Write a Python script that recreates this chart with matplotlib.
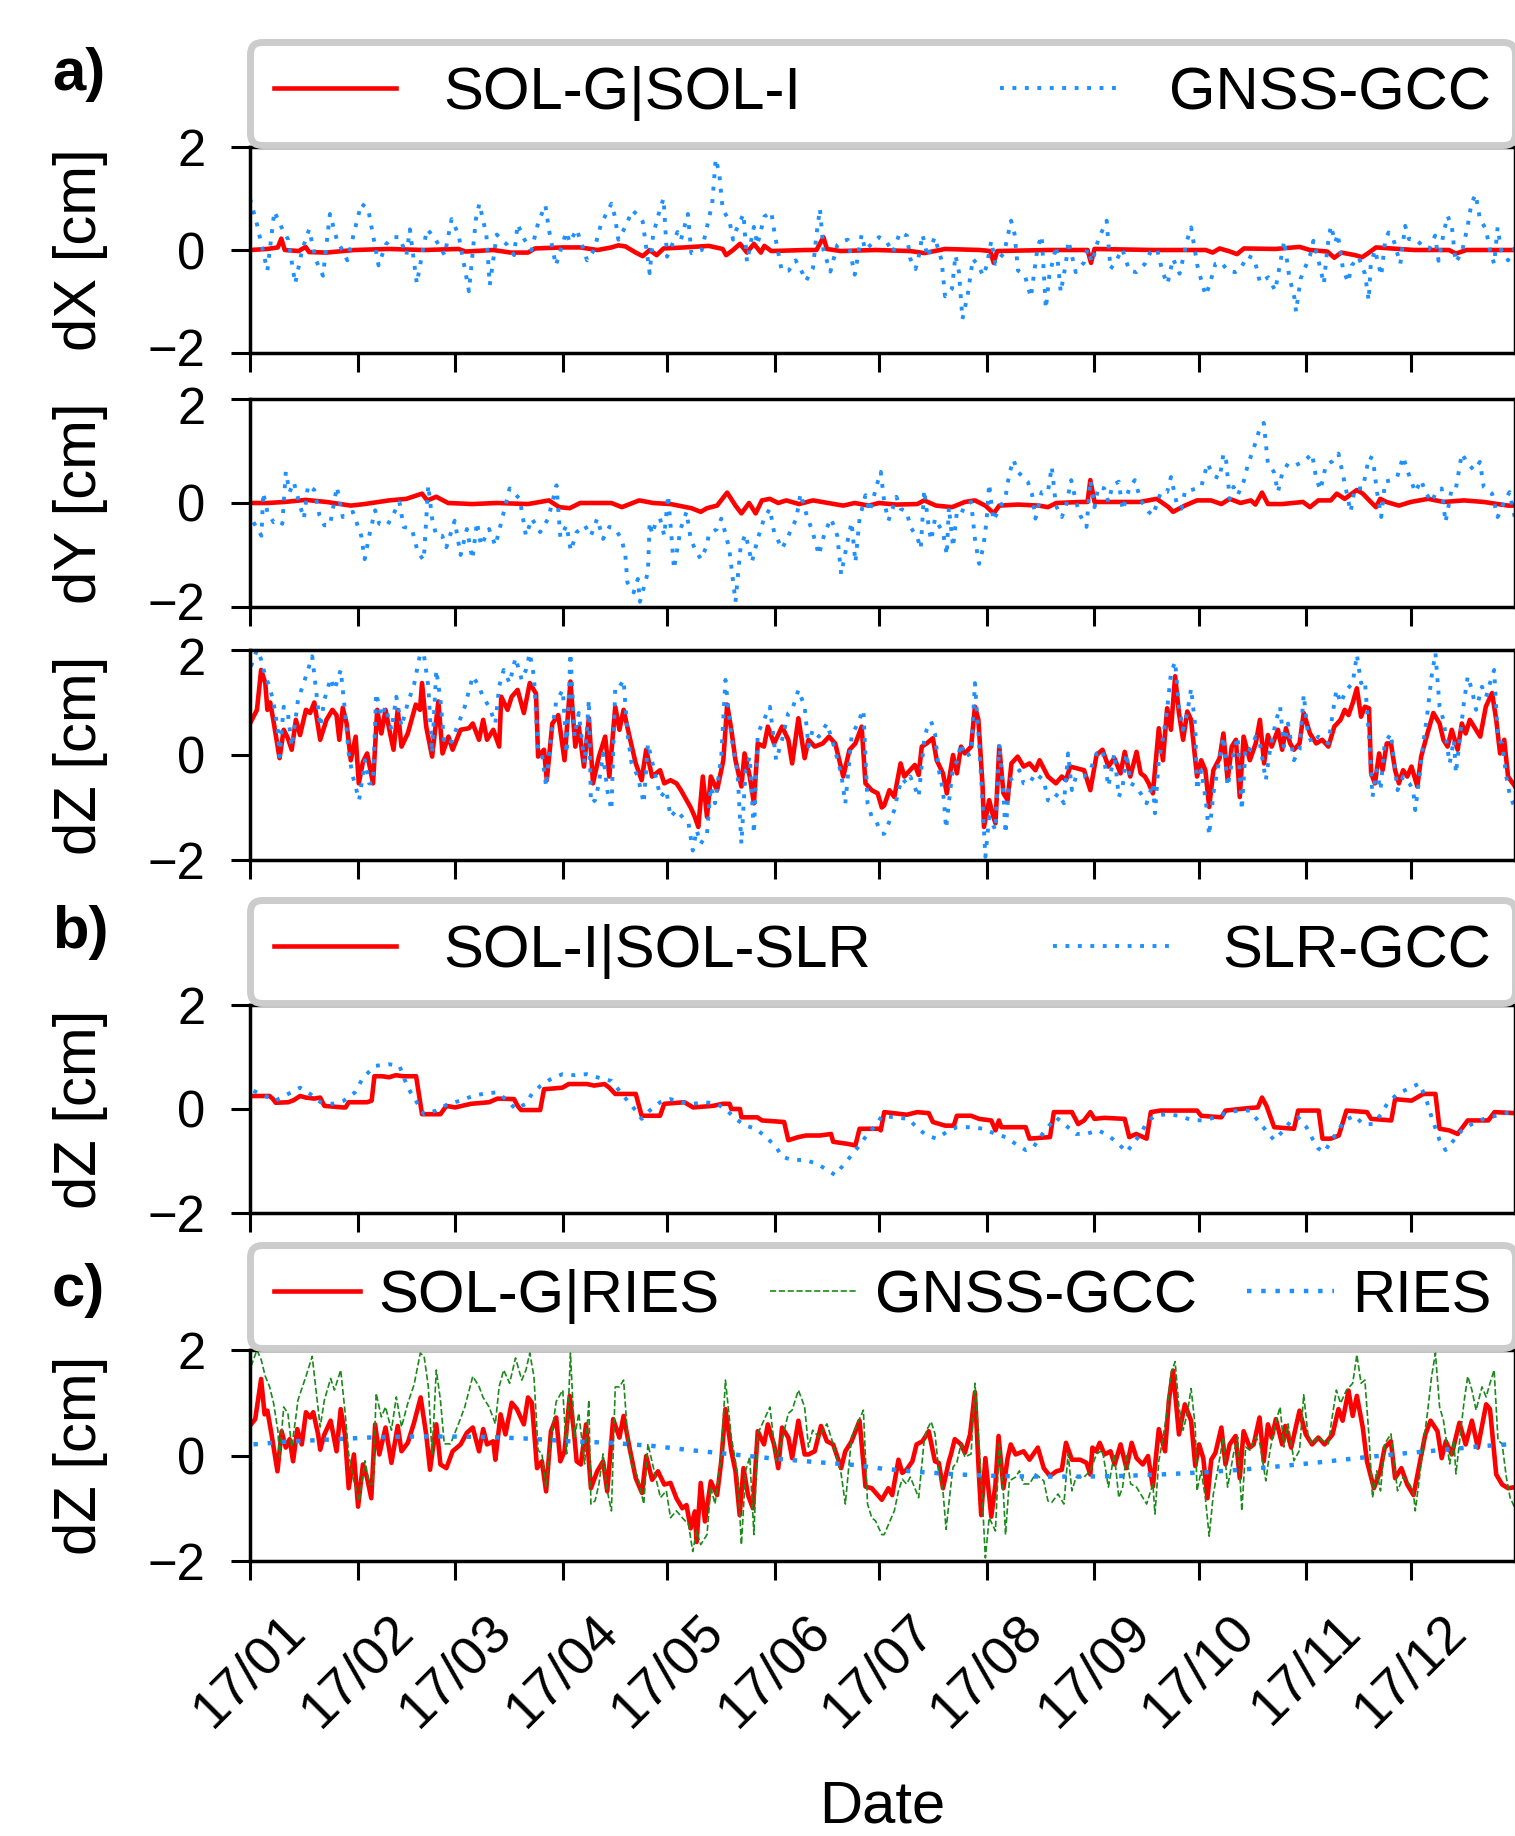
import numpy as np
import matplotlib
matplotlib.use('Agg')
import matplotlib.pyplot as plt
import matplotlib.dates as mdates
import matplotlib.transforms as mtransforms
from matplotlib.ticker import FixedLocator, FixedFormatter

plt.rcParams['font.family'] = ['Liberation Sans', 'DejaVu Sans']

START = '2017-01-01'
TICK_MONTHS = ['2017-01-01', '2017-02-01', '2017-03-01', '2017-04-01', '2017-05-01', '2017-06-01',
               '2017-07-01', '2017-08-01', '2017-09-01', '2017-10-01', '2017-11-01', '2017-12-01']
TICK_LABELS = ['17/01', '17/02', '17/03', '17/04', '17/05', '17/06',
               '17/07', '17/08', '17/09', '17/10', '17/11', '17/12']
YTICKS = [-2, 0, 2]
YLABELS = ['dX [cm]', 'dY [cm]', 'dZ [cm]', 'dZ [cm]', 'dZ [cm]']
PANEL_TAGS = ['a)', 'b)', 'c)']

# ---------------- panel a) dX ----------------
DX_SOL_D = [0, 5, 8, 9, 10, 14, 16, 17, 22, 30, 40, 50, 60, 62, 70, 75, 80, 82, 90, 95, 100, 104, 106, 108,
            111, 113, 115, 117, 119, 125, 132, 136, 137, 139, 141, 143, 145, 147, 148, 150, 160, 163, 165,
            166, 170, 180, 190, 194, 200, 210, 213, 214, 215, 230, 241, 242, 243, 260, 275, 277, 279, 282,
            284, 286, 295, 302, 305, 310, 312, 314, 318, 320, 322, 324, 335, 345, 347, 350, 364]
DX_SOL_V = [0.0, 0.02, 0.05, 0.22, 0.0, -0.02, 0.06, -0.04, -0.05, 0.0, 0.02, 0.0, 0.02, -0.03, 0.0, -0.05,
            -0.05, 0.03, 0.05, 0.05, 0.0, 0.05, 0.09, 0.07, -0.05, -0.12, 0.0, -0.1, 0.03, 0.05, 0.08, 0.02,
            -0.1, 0.0, 0.12, -0.05, 0.12, -0.05, 0.08, -0.02, 0.0, 0.0, 0.25, 0.02, -0.02, 0.0, -0.02, -0.06,
            0.02, 0.0, -0.02, -0.25, -0.02, 0.0, 0.0, -0.25, 0.02, 0.0, 0.0, -0.05, 0.03, -0.03, -0.08, 0.03,
            0.02, 0.06, 0.0, -0.03, -0.15, -0.05, -0.1, -0.14, -0.05, 0.05, 0.0, 0.0, -0.07, 0.0, 0.0]

DX_GNSS_D = [0, 2, 5, 7, 9, 11, 13, 15, 17, 19, 21, 23, 25, 28, 32, 34, 37, 39, 41, 43, 45, 46, 48, 50, 51,
             53, 56, 58, 60, 63, 65, 66, 68, 69, 71, 74, 76, 77, 79, 81, 83, 85, 86, 88, 91, 92, 94, 95, 97,
             99, 101, 104, 105, 106, 108, 110, 112, 113, 115, 116, 118, 119, 120, 123, 124, 126, 127, 130,
             131, 133, 134, 135, 136, 138, 139, 140, 142, 143, 145, 146, 148, 150, 151, 153, 155, 157, 159,
             160, 162, 163, 164, 165, 167, 169, 170, 172, 174, 176, 177, 181,
             183, 185, 187, 189, 190, 191.5, 192.5, 193.5, 195, 197, 199, 200, 202, 203, 204, 205, 206.5,
             208, 209.5, 211, 212, 213.3, 214.5, 217, 219, 220, 221, 223, 224.7, 226.6, 227.8, 229, 230,
             232, 233.3, 234.8, 235.5, 237.6, 240, 241, 242.3, 244, 245, 246.5, 247.6, 249, 251, 253, 255,
             257.5, 259, 261, 262.6, 264, 265.6, 267.5, 269.7, 270.8, 272.6, 274, 275, 276, 277.8, 279.5,
             281.3, 283.5, 285, 287, 289, 290.6, 293, 295, 296.3, 297.6, 299, 300.6, 301, 302.3, 305, 306,
             307.8, 309, 310, 311, 312.3, 313, 314.5, 316, 317, 319, 320.8, 321.9, 322.5, 323.7, 325.5,
             326.6, 327.6, 329, 331, 332.4, 333.5, 335.3, 337.5, 339.3, 341, 342, 343.5, 344.6, 345.8,
             346.9, 348.7, 350.4, 351.5, 352.7, 353.9, 355.6, 356.8, 358, 359, 360, 362, 364]
DX_GNSS_V = [1.0, 0.5, -0.4, 0.75, 0.45, 0.2, -0.65, 0.0, 0.4, -0.2, -0.5, 0.7, 0.2, -0.2, 0.9, 0.8, -0.3,
             0.1, 0.25, 0.25, -0.1, 0.4, -0.65, 0.1, 0.4, 0.25, -0.1, 0.6, 0.3, -0.8, 0.6, 0.9, 0.3, -0.68,
             0.3, 0.1, -0.1, 0.5, 0.2, 0.0, 0.55, 0.87, 0.4, -0.3, 0.35, 0.15, 0.4, 0.2, -0.2, 0.0, 0.5, 0.9,
             0.65, 0.2, 0.45, 0.77, 0.65, 0.55, -0.45, 0.3, 0.8, 1.0, -0.13, 0.35, 0.2, 0.7, -0.06, 0.0, 0.3,
             0.9, 1.77, 1.5, 0.8, 0.55, 0.2, 0.4, 0.7, -0.23, 0.45, 0.1, 0.65, 0.74, 0.3, -0.4, -0.4, -0.2,
             -0.45, -0.6, -0.35, 0.3, 0.8, 0.0, -0.42, 0.1, 0.16, 0.2, -0.48, 0.3, 0.0, 0.25,
             0.18, -0.05, 0.34, 0.28, -0.17, -0.37, -0.1, 0.3, -0.14, 0.25, -0.2, -0.9, -0.75, -0.1, -0.43,
             -1.34, -0.88, -0.17, -0.3, -0.5, -0.3, 0.18, -0.27, -0.05, 0.57, 0.31, -0.4, -0.5, -0.92, 0.05,
             0.28, -1.14, -0.5, 0.08, -0.82, -0.24, 0.18, -0.43, -0.24, 0.02, -0.24, 0.18, 0.34, 0.57, -0.37,
             -0.24, 0.02, -0.4, -0.43, -0.27, -0.05, 0.02, -0.43, -0.66, -0.17, -0.46, 0.2, 0.44, -0.3, -0.66,
             -0.88, -0.7, -0.27, -0.24, -0.4, -0.43, -0.37, -0.11, -0.17, -0.63, -0.53, -0.79, -0.3, 0.18,
             -0.5, -0.95, -1.2, -0.56, -0.11, 0.18, -0.3, -0.66, 0.05, 0.47, 0.15, 0.31, -0.37, -0.63, -0.3,
             -0.14, -0.46, -0.98, -0.27, 0.0, -0.5, 0.15, 0.34, 0.21, -0.27, 0.47, 0.21, 0.21, 0.08, 0.02,
             0.28, -0.21, 0.34, 0.66, 0.47, -0.24, -0.05, 0.47, 0.92, 1.08, 0.6, 0.41, 0.0, -0.27, 0.44, 0.0,
             -0.2, 0.05]

# ---------------- panel a) dY ----------------
DY_SOL_D = [0, 5, 10, 16, 22, 29, 33, 40, 45, 49.5, 51, 53.6, 57, 64, 71, 80, 86, 89, 92, 95, 104, 107, 112,
            116, 121, 127, 129.7, 131.5, 134.4, 137.3, 139.7, 141.4, 143.6, 145.5, 147.3, 149.6, 152, 154.3,
            158, 162, 170.7, 174, 178, 181, 186, 192, 194, 197.4, 202, 205.7, 208.6, 211.6, 214, 215.6, 221,
            227, 229.6, 232, 239, 241, 241.8, 243, 250, 256, 260.9, 264.3, 265.6, 269, 272.5, 276.5, 279.5,
            281.9, 285, 288, 289.3, 291.2, 292.9, 297, 303, 305, 307.4, 311, 312.7, 315, 318.5, 320.2,
            322.5, 324, 325.2, 327, 330.6, 334, 339, 343.5, 349.3, 355, 362, 364]
DY_SOL_V = [0.0, 0.0, 0.02, 0.06, 0.02, -0.05, -0.02, 0.05, 0.08, 0.18, 0.05, 0.12, 0.0, -0.02, 0.0, -0.02,
            0.05, -0.08, -0.1, 0.0, 0.0, -0.08, 0.05, 0.0, -0.02, -0.1, -0.17, -0.1, -0.05, 0.2, -0.05, -0.2,
            0.0, -0.2, 0.05, 0.08, 0.0, 0.05, -0.02, 0.05, -0.05, 0.0, -0.05, 0.0, -0.03, -0.02, 0.05, -0.05,
            -0.08, 0.02, 0.05, -0.05, -0.2, -0.05, -0.03, -0.05, -0.08, 0.0, 0.02, 0.02, 0.44, 0.02, 0.02,
            0.02, 0.08, -0.08, -0.17, -0.05, 0.05, 0.05, -0.02, 0.08, 0.0, 0.05, -0.03, 0.2, -0.02, -0.02,
            0.02, -0.08, 0.05, 0.05, 0.18, 0.08, 0.25, 0.18, 0.02, -0.08, 0.08, 0.02, -0.05, 0.02, 0.08, 0.02,
            0.05, 0.02, -0.05, -0.05]

DY_GNSS_D = [1, 3.3, 3.8, 5, 6.8, 8, 9.3, 10.3, 11.4, 12.6, 14.4, 15.5, 16.7, 18.5, 20, 21.4, 23, 25, 26.7,
             29.6, 32, 33, 34.3, 36, 37.2, 39.5, 41.3, 43, 44.2, 46.6, 48.3, 50, 51.3, 52.4, 53.6, 55.3, 56.5,
             58.9, 60.6, 62.4, 64, 65.3, 66.5, 68.8, 70.6, 72.3, 74.7, 77.6, 79.4, 81.1, 83.5, 85.8, 88.2,
             89.3, 91.1, 92.3, 94, 96.3, 98.1, 99.9, 101.6, 103.4, 105.1, 106.9, 108, 108.6, 110.4, 111.6,
             112.2, 114.5, 115, 115.7, 116.8, 118, 119.2, 120.3, 121.4, 122, 123.9, 125.6, 126.8, 128, 129.7,
             131.5, 132, 134.4, 135.6, 136.7, 137.9, 139.7, 141.2, 142.6, 144.4, 146.1, 147.9, 149.6, 150.8,
             153.1, 154.9, 157.2, 158.4, 160.2, 161.9, 163.7, 165.4, 167.2, 169, 170.1, 171.9, 173.1, 174.2,
             175.4, 177.1, 178.3, 180.6,
             181.5, 182.5, 183.7, 184.9, 186, 187.2, 189, 190, 192, 193, 194, 195.3, 196, 197.1, 198.2, 199.4,
             200.5, 201.1, 202.3, 203.4, 204.6, 205.7, 207.5, 208.6, 209.8, 211, 211.9, 212.7, 213.9, 215.6,
             217.4, 218.5, 219.7, 220.9, 222, 223.8, 225, 226, 227.8, 229.6, 230.7, 231.9, 233.6, 234.8,
             236.3, 237.7, 238.9, 240.7, 241.8, 243, 244.1, 245.8, 247, 248.2, 250, 251.1, 253, 254.6, 256.3,
             258.6, 259.8, 262.1, 263.9, 265, 266.8, 268, 269.1, 270.3, 272.5, 273.7, 275.5, 277.2, 279,
             280.1, 280.9, 281.9, 283, 284.2, 285.9, 287.1, 288.8, 290.6, 291.7, 292.9, 294.6, 295.8, 297,
             298.7, 301, 303.3, 305.6, 306.8, 308, 309.6, 311.4, 313.2, 314.4, 316.7, 317.9, 320.2, 322,
             323.1, 324.3, 325.5, 326.6, 328.4, 330.1, 331.8, 333, 335.3, 337, 338.2, 340, 341.1, 342.9, 344,
             345.8, 347, 348.7, 350.4, 352.2, 353.9, 355, 357.4, 359, 360.7, 362.4, 364]
DY_GNSS_V = [-0.37, -0.63, 0.2, -0.17, -0.37, -0.33, -0.4, 0.6, 0.21, 0.4, -0.05, -0.3, 0.34, 0.25, -0.24,
             -0.43, -0.43, 0.31, -0.27, -0.17, -0.63, -1.08, -0.63, -0.14, -0.4, -0.43, -0.21, 0.02, -0.46,
             -0.5, -0.95, -1.1, 0.34, -0.3, -0.63, -0.63, -0.85, -0.34, -1.0, -0.5, -1.08, -0.37, -0.82, -0.5,
             -0.82, -0.37, 0.28, 0.08, -0.63, -0.3, -0.56, -0.3, 0.34, -0.66, -0.43, -0.92, -0.56, -0.43,
             -0.63, -0.3, -0.69, -0.46, -0.5, -0.69, -1.0, -1.53, -1.72, -1.46, -1.9, -1.33, -0.37, -0.6,
             -0.37, -0.3, -0.63, 0.15, -0.75, -1.27, -0.5, -0.17, -0.69, -0.88, -1.08, -0.82, -0.6, -0.5, -0.3,
             -0.56, -0.88, -1.9, -0.82, -0.6, -1.14, -0.69, -0.3, -0.11, -0.56, -0.88, -0.63, -0.3, 0.18,
             -0.24, -0.56, -1.0, -0.56, -0.3, -0.63, -1.37, -0.75, -0.37, -1.14, -0.3, 0.15, -0.17, 0.4,
             0.6, 0.02, -0.34, -0.11, 0.12, -0.11, -0.17, -0.46, -0.66, -0.88, 0.25, -0.46, -0.72, -0.3, -0.43,
             -0.56, -1.0, -0.08, -0.85, -0.17, -0.21, -0.05, 0.02, -0.69, -1.17, -0.85, -0.37, 0.37, -0.34,
             -0.11, 0.12, 0.57, 0.83, 0.6, 0.53, 0.41, 0.18, -0.3, 0.21, 0.21, 0.7, -0.05, -0.27, -0.05, 0.44,
             0.02, -0.24, -0.46, 0.44, -0.08, 0.31, 0.28, 0.02, 0.34, 0.41, -0.14, 0.28, 0.44, 0.05, -0.17,
             -0.24, 0.21, 0.21, 0.5, -0.05, -0.11, 0.24, 0.24, 0.28, 0.31, 0.76, 0.53, 0.47, 0.95, 0.8, 0.08,
             0.31, 0.15, 0.41, 0.73, 1.05, 1.44, 1.54, 0.76, 0.6, 0.21, 0.57, 0.76, 0.73, 0.8, 0.95, 0.47,
             0.25, 0.73, 0.8, 0.95, 0.57, -0.17, 0.28, 0.28, 0.89, 0.85, 0.21, -0.27, 0.41, 0.44, 0.5, 0.89,
             0.63, 0.21, 0.44, 0.21, 0.02, 0.18, 0.28, -0.37, 0.28, 0.28, 0.95, 0.76, 0.63, 0.79, 0.31, 0.18,
             -0.27, -0.01, 0.21, -0.3]

# ---------------- panel a) dZ ----------------
DZ_SOL_D = [0, 2, 3.2, 4.4, 5, 5.8, 6.7, 8.5, 9.7, 10.9, 12, 13.2, 14.4, 16.1, 17.3, 18.5, 20.2, 22, 23.7,
            24.9, 25.7, 26.7, 27.8, 29, 30.4, 31.3, 32.5, 33.7, 35.4, 36.6, 37.8, 39, 40.1, 41.3, 42.5, 43.6,
            45.4, 47.7, 48.9, 49.5, 50.7, 52.4, 54.2, 55.4, 57.1, 58.3, 60.6, 63, 64.1, 65.9, 67.1, 68.2, 70,
            71.7, 72.3, 74.1, 75.3, 77, 78.8, 80.5, 82.3, 82.9, 84.6, 85.4, 87, 88.7, 90.5, 92.2, 93.6, 94.6,
            96.1, 97.5, 98.7, 100.4, 102.2, 103.4, 105.1, 106.3, 107.5, 109.2, 111, 112.7, 114, 115.7, 118,
            119.2, 121, 122.7, 124, 125.6, 126.8, 128, 129, 130.3, 131.5, 132.6, 134.4, 136.2, 137.3, 138.5,
            139.7, 141.4, 142.3, 143.8, 145, 146.1, 147.9, 149, 150.8, 153.1, 154.9, 156, 157.8, 159.6, 160.7,
            162.5, 164.8, 166.6, 168.4, 170.7, 172.5, 174.2, 176, 177.1, 178.9, 180.6, 181.8,
            182.5, 184, 185.4, 187.2, 188.3, 189.5, 191.3, 192.4, 193.3, 194.7, 196.5, 197.6, 199.4, 200.5,
            202.3, 203.4, 204.6, 205.7, 207.5, 208.6, 209.6, 210.8, 211.2, 212.7, 213.9, 214.5, 215.6, 216.8,
            218, 219.1, 220.9, 222.6, 224.3, 226, 227.2, 229.6, 231.9, 233.6, 234.8, 236, 237.7, 240, 241.8,
            243.6, 245.3, 247, 248.7, 250.5, 251.7, 253.3, 255.1, 256.3, 257.5, 258.6, 259.8, 261.5, 262.7,
            263.9, 265, 266.2, 267.3, 268.5, 269.7, 270.8, 272.5, 273.7, 274.9, 276, 277.2, 279, 280.1, 281.3,
            282.5, 283.7, 284.8, 285.9, 287.7, 289.4, 290.6, 291.8, 292.9, 294, 295.8, 297, 298.1, 299.3,
            300.4, 302, 303.2, 305, 306.8, 308.5, 310.3, 312, 313.8, 315, 316.1, 317.3, 318.5, 319.7, 320.8,
            322, 322.6, 323.7, 324.9, 325.9, 327.1, 328.3, 329.5, 330.6, 331.8, 333, 334.2, 335.9, 337,
            338.8, 340.5, 342.3, 343.4, 344.6, 345.8, 347.5, 348.7, 349.8, 351, 352.8, 354, 355.6, 357.4,
            358.6, 359.7, 360.9, 362, 364]
DZ_SOL_V = [0.6, 0.86, 1.62, 1.37, 0.86, 1.0, 0.67, -0.06, 0.48, 0.32, 0.1, 0.67, 0.38, 0.86, 0.8, 1.0, 0.29,
            0.67, 0.86, 0.76, 0.29, 0.9, 0.6, -0.1, 0.35, -0.54, -0.13, 0.03, -0.54, 0.86, 0.41, 0.86, 0.48,
            0.1, 0.86, 0.16, 0.41, 0.96, 0.86, 1.37, 0.54, -0.03, 1.02, 0.03, 0.35, 0.1, 0.48, 0.51, 0.6, 0.29,
            0.67, 0.29, 0.48, 0.16, 1.11, 0.86, 1.11, 1.24, 0.8, 1.37, 1.17, -0.03, 0.1, -0.48, 0.6, 0.76,
            -0.1, 1.4, 0.16, 0.54, -0.22, 0.7, -0.54, -0.03, 0.35, -0.41, 0.92, 0.48, 0.86, 0.35, -0.16,
            -0.48, 0.1, -0.41, -0.29, -0.54, -0.48, -0.54, -0.67, -0.86, -1.0, -1.18, -1.37, -0.41, -1.18,
            -0.41, -0.67, -0.1, 0.96, 0.48, -0.1, -0.6, 0.03, -0.41, -0.92, 0.22, 0.16, 0.54, 0.22, 0.54,
            0.29, -0.16, 0.7, -0.06, 0.29, 0.16, 0.22, 0.35, 0.22, -0.41, 0.1, 0.22, 0.54, -0.54, -0.67,
            -0.73, -1.0,
            -0.96, -0.67, -0.8, -0.16, -0.41, -0.32, -0.19, -0.38, 0.16, 0.22, 0.32, -0.1, -0.35, -0.73, 0.0,
            -0.35, 0.16, 0.03, 0.16, 0.92, 0.67, -0.6, -1.37, -0.86, -1.18, -1.3, 0.16, -0.73, -0.86, -0.16,
            -0.03, -0.22, -0.16, -0.29, -0.1, -0.41, -0.54, -0.41, -0.48, -0.22, -0.25, -0.29, -0.67, 0.0,
            0.1, -0.22, -0.06, -0.35, 0.06, -0.41, 0.06, -0.35, -0.41, -0.54, -0.73, 0.51, -0.1, 0.89, 0.48,
            1.5, 0.8, 0.29, 0.83, 0.67, -0.41, -0.1, -0.29, -0.99, -0.29, -0.06, 0.41, -0.48, 0.16, 0.29,
            -0.8, 0.35, -0.1, 0.22, 0.67, -0.16, 0.38, 0.16, 0.48, 0.1, 0.51, 0.22, 0.1, 0.22, 0.8, 0.41,
            0.22, 0.29, 0.16, 0.54, 0.67, 0.86, 0.76, 0.99, 1.27, 0.73, 0.92, 0.89, -0.35, -0.54, 0.03,
            -0.29, 0.22, 0.22, -0.29, -0.54, -0.29, -0.41, -0.22, -0.6, -0.03, 0.41, 0.8, 0.6, 0.29, 0.16,
            0.48, 0.1, 0.6, 0.41, 0.67, 0.48, 0.35, 0.92, 1.18, 0.67, 0.03, 0.29, -0.41, -0.6]

# GNSS-GCC dZ (panel a dZ and panel c)
DZ_GNSS_D = [0.3, 2, 3.2, 4.4, 5.6, 6.8, 8, 8.5, 9.7, 10.9, 12, 13.2, 13.8, 16.1, 17.9, 19.1, 20.2, 21.4, 23.2,
             24.3, 26.1, 27.3, 28.4, 29.6, 31.4, 33.1, 34.3, 35.4, 36.3, 37.8, 39, 40.7, 42.1, 43.6, 45.4,
             47.2, 49, 50.1, 51.3, 52.4, 53.6, 54.8, 55.9, 57.7, 60, 61.8, 64.1, 65.9, 67, 68.8, 70.6, 71.7,
             73, 74.7, 76.4, 78.2, 79.4, 80.5, 81.7, 82.9, 84, 85.2, 86.4, 88.1, 90, 91.1, 92.2, 93.4, 94.6,
             96.3, 97.5, 98.1, 99.3, 100.4, 101.6, 102.8, 104, 105.1, 106.3, 107.5, 108.6, 109.8, 111.6,
             113.3, 114.5, 116.3, 118.1, 119.8, 121, 122.7, 124.4, 126.2, 127.4, 128.5, 129.7, 131.5, 132.6,
             133.8, 135.6, 136.8, 138.5, 140.3, 141.4, 142.6, 143.8, 145, 146.1, 147.9, 149.6, 151.4, 153.1,
             154.9, 156, 157.8, 159.6, 160.7, 161.9, 163.7, 166, 167.8, 170.1, 171.3, 173.1, 174.8, 176.5,
             177.7, 178.9, 180, 181.8,
             182.5, 183.7, 185.4, 186.6, 187.7, 188.9, 190, 191.2, 192.4, 194, 194.7, 196, 197.1, 198.2,
             199.4, 200.3, 201.5, 202.3, 203.4, 204.6, 205.7, 207.5, 208.6, 209.8, 210.8, 211.6, 212.7,
             214.5, 215.6, 216.8, 217.4, 218.5, 220.3, 221.4, 222.6, 224.3, 226, 228.4, 229.6, 230.7, 232.5,
             234.2, 235.4, 236.5, 237.7, 240, 241.8, 243.6, 245.3, 247, 248.7, 250, 251.1, 252.2, 253.4,
             255.1, 256.9, 258, 259.8, 260.4, 261.5, 262.7, 263.9, 265, 266.2, 267.3, 268.5, 269.7, 270.8,
             272, 272.5, 273.7, 274.9, 276, 277.2, 278.4, 280.1, 281.3, 283, 284.2, 285.4, 286.5, 287.7,
             289.4, 290.6, 292.3, 293.5, 295.2, 296.4, 297.5, 298.7, 300.4, 302, 303.2, 304.4, 305.6, 307.4,
             308.5, 310.3, 311.4, 312.6, 313.8, 315.5, 317.3, 318.5, 319.7, 320.8, 322, 323, 324.2, 325.3,
             326.5, 328.3, 329.5, 330.2, 331.8, 333.6, 334.7, 335.3, 336.4, 337.6, 338.8, 340, 341.1, 342.3,
             343.4, 345.2, 346.4, 347, 349.3, 350.4, 351.6, 352.8, 354.5, 355.7, 356.8, 358, 359.1, 360.3,
             361.5, 362.6, 364]
DZ_GNSS_V = [1.69, 2.0, 1.82, 1.5, 1.31, 0.99, 0.48, -0.03, 0.92, 0.8, 0.16, 0.73, 1.05, 1.5, 1.88, 1.18, 0.54,
             1.05, 1.46, 1.24, 1.62, 0.86, 0.03, -0.41, -0.86, -0.1, -0.54, -0.54, 1.18, 0.73, 0.92, 0.48, 1.11,
             0.54, 0.99, 1.34, 1.94, 1.88, 1.31, 0.03, 1.62, 1.05, 0.22, 0.22, 0.6, 0.92, 1.5, 1.31, 1.11, 0.92,
             0.6, 1.31, 1.62, 1.37, 1.85, 1.43, 1.62, 1.94, 1.5, 0.1, 0.03, -0.6, 0.22, 1.02, 1.24, 0.03, 1.94,
             0.35, 0.8, -0.16, 1.05, -0.92, -0.86, -0.54, 0.03, -0.67, -1.05, 1.3, 1.3, 1.43, 0.41, -0.16,
             -0.41, -0.92, 0.22, -0.29, -0.8, -0.67, -1.18, -1.05, -1.18, -1.31, -1.82, -1.43, -1.69, -1.5,
             -0.6, -0.92, -0.03, 1.43, 0.35, -0.35, -1.69, -0.29, -0.03, -1.5, 0.41, 0.67, 0.92, -0.1, 0.29,
             0.8, 0.86, 1.24, 0.92, 0.16, 0.48, 0.35, 0.6, 0.22, -0.35, -0.92, 0.35, 0.6, 0.86, -0.92, -1.18,
             -1.24, -1.5,
             -1.5, -1.31, -1.05, -0.67, -0.45, -0.54, -0.41, -0.6, -0.8, 0.29, 0.48, 0.64, 0.41, -0.29, -0.67,
             -1.4, -0.67, -0.22, -0.13, 0.22, -0.03, 0.03, 1.37, 0.22, -0.92, -1.94, -1.18, -1.43, 0.22, -0.73,
             -1.5, -0.48, -0.41, -0.29, -0.54, -0.54, -0.35, -0.48, -0.86, -0.89, -0.73, -0.92, 0.03, -0.67,
             -0.41, -0.41, -0.29, 0.03, 0.1, -0.6, 0.03, -0.8, -0.6, 0.03, -0.54, -0.6, -0.8, -0.92, -0.54,
             -1.11, -0.1, 0.32, 0.86, 1.56, 1.78, 0.92, 0.48, 0.8, 1.27, 0.54, -0.67, -0.29, -0.8, -1.53, -0.73,
             -0.29, 0.35, -0.6, 0.03, 0.35, -1.05, 0.16, 0.1, 0.35, 0.22, -0.48, 0.1, 0.64, 0.92, 0.16, 0.6,
             -0.1, 0.1, 1.15, 0.41, 0.22, 0.35, 0.29, 0.22, 0.73, 1.24, 0.99, 1.24, 1.37, 1.91, 1.37, 1.43,
             0.35, -0.8, -0.29, -0.67, 0.22, 0.41, -0.29, -0.67, -0.41, -0.54, -0.67, -1.05, -0.48, 0.22, 0.8,
             1.5, 1.94, 0.92, 0.67, -0.16, 0.29, -0.35, 1.0, 1.5, 1.24, 0.86, 1.3, 1.11, 1.37, 1.62, 0.29,
             0.22, -0.41, -0.8, -1.0]

# ---------------- panel b) dZ SLR ----------------
SLR_SOL_D = [0, 5.6, 6.5, 7.4, 11, 12.6, 14.4, 16, 18.5, 20.2, 21.4, 26.7, 27.5, 28.4, 33.7, 35, 35.8, 38, 40,
             42, 44, 47.8, 49.5, 54.8, 56.5, 59, 63.6, 68.8, 71.2, 76, 77, 78, 83.5, 84.6, 89.9, 91.7, 97, 99,
             102, 103.4, 105.1, 111, 112.7, 118, 119.2, 125, 127.5, 133.2, 136, 138, 138.5, 141, 141.4, 146,
             147.3, 153.7, 154.9, 157.8, 160, 164, 167.2, 167.8, 171.9, 174.2, 175.4, 181,
             181.5, 182.5, 189, 192, 195.3, 196.5, 200, 202.5, 203.4, 207.5, 209.8, 213.3, 214.5, 215.5, 216.2,
             223.2, 224.3, 230.2, 231.3, 236.5, 238.3, 240, 241.8, 243, 245.8, 251.7, 253, 255, 258, 259.2,
             262, 267, 272.5, 273.7, 279.5, 280.7, 285, 287.7, 290, 291.2, 292.5, 294.7, 300.4, 301.6, 307.5,
             308.6, 311, 313.3, 315.5, 321.4, 322.6, 328.4, 329.5, 334.2, 337.6, 341.1, 342.3, 345, 347.5,
             350.4, 356.3, 358.1, 364]
SLR_SOL_V = [0.25, 0.25, 0.2, 0.12, 0.13, 0.17, 0.25, 0.22, 0.2, 0.22, 0.06, 0.03, 0.03, 0.13, 0.13, 0.16, 0.63,
             0.63, 0.61, 0.65, 0.63, 0.63, -0.1, -0.1, 0.06, 0.03, 0.1, 0.13, 0.2, 0.19, 0.06, -0.02, -0.02,
             0.38, 0.41, 0.48, 0.48, 0.45, 0.48, 0.41, 0.29, 0.29, -0.13, -0.13, 0.1, 0.13, 0.03, 0.06, 0.1, 0.1,
             0.0, 0.0, -0.16, -0.16, -0.22, -0.25, -0.6, -0.54, -0.51, -0.51, -0.48, -0.63, -0.67, -0.7, -0.38,
             -0.38,
             -0.41, -0.06, -0.11, -0.06, -0.08, -0.25, -0.32, -0.32, -0.13, -0.13, -0.19, -0.22, -0.41, -0.22,
             -0.35, -0.35, -0.57, -0.54, -0.06, -0.06, -0.29, -0.22, -0.06, -0.19, -0.17, -0.19, -0.54, -0.48,
             -0.57, -0.06, -0.03, -0.03, -0.03, -0.13, -0.16, -0.03, 0.0, 0.02, 0.03, 0.22, 0.06, -0.35, -0.38,
             -0.03, -0.03, -0.57, -0.57, -0.51, -0.03, -0.06, -0.19, -0.22, 0.19, 0.16, 0.29, 0.29, -0.38,
             -0.41, -0.48, -0.22, -0.22, -0.06, -0.08]

SLR_GCC_D = [1, 7.3, 11, 14.4, 17.3, 20.3, 23.7, 27, 30.2, 32.5, 36, 40.1, 43, 45.4, 47.7, 50.1, 53.6, 57.1,
             60.6, 64.1, 67.7, 71.2, 74.1, 76.4, 79.4, 81.1, 83.5, 86.4, 89.9, 93.4, 96.9, 100.4, 104, 106.3,
             108.6, 111, 112.7, 115, 118, 120.9, 124.4, 127.4, 130.9, 134.4, 137.3, 139.7, 142.6, 145.5, 148.5,
             151.4, 153.1, 156.1, 159.6, 163.1, 166, 168.4, 170.7, 173.1, 175.4, 177.7, 180, 181.9, 185.4,
             189.5, 191.8, 194.7, 197.6, 200.5, 203.4, 207.5, 211, 214.5, 217.4, 220.3, 223.2, 225.5, 227.3,
             229.6, 231.9, 234.8, 237.7, 240.6, 244.1, 247, 249.9, 252.3, 254, 256.3, 258.1, 260.4, 263.8,
             267.3, 270.8, 274.3, 277.8, 281.3, 284.8, 287.7, 290, 292.3, 294.7, 297, 299.3, 301.6, 304, 305.7,
             307.4, 309.2, 310.9, 313.2, 314.9, 317.9, 320.2, 323.1, 325.5, 327.2, 330.1, 333, 336.5, 338.3,
             340, 342.3, 344, 346.4, 348.7, 351.6, 355, 358.5, 362.6]
SLR_GCC_V = [0.35, 0.16, 0.29, 0.41, 0.29, 0.13, 0.1, 0.16, 0.32, 0.6, 0.83, 0.86, 0.83, 0.41, 0.16, -0.1, -0.03,
             0.1, 0.16, 0.25, 0.3, 0.32, 0.16, 0.0, 0.1, 0.29, 0.44, 0.57, 0.67, 0.65, 0.67, 0.6, 0.54, 0.35,
             0.16, -0.03, -0.19, -0.03, 0.13, 0.19, 0.13, 0.1, 0.13, 0.1, -0.03, -0.19, -0.32, -0.38, -0.54,
             -0.73, -0.92, -0.98, -0.98, -1.05, -1.17, -1.27, -1.08, -0.89, -0.7, -0.48, -0.32, -0.13, -0.16,
             -0.19, -0.35, -0.51, -0.57, -0.44, -0.35, -0.35, -0.38, -0.48, -0.54, -0.67, -0.79, -0.73, -0.54,
             -0.35, -0.16, -0.32, -0.48, -0.48, -0.41, -0.51, -0.67, -0.83, -0.67, -0.48, -0.25, -0.13, -0.1,
             -0.13, -0.21, -0.22, -0.16, -0.06, -0.03, -0.03, -0.22, -0.41, -0.6, -0.44, -0.25, -0.16, -0.35,
             -0.57, -0.76, -0.83, -0.63, -0.41, -0.22, -0.13, -0.29, -0.29, -0.1, 0.1, 0.29, 0.38, 0.49, 0.22,
             -0.16, -0.6, -0.79, -0.6, -0.41, -0.29, -0.19, -0.13, -0.06]

# ---------------- panel c) dZ RIES ----------------
RIES_SOL_D = [0.3, 1.5, 3.2, 4.2, 5, 6.2, 7.9, 9.1, 10.3, 11.4, 12.4, 13.6, 14.9, 16.1, 17.3, 18.2, 19.6, 20.2,
              21.4, 23.2, 24.9, 26.1, 27.3, 28.4, 29.9, 31.1, 32.5, 33.7, 34.9, 36, 37.2, 39, 40.7, 42.5, 43.6,
              45.4, 47.2, 49.1, 50.7, 51.8, 53.6, 54.8, 56.5, 58.3, 60.6, 62.4, 64.1, 65.9, 67.1, 68.2, 70, 70.6,
              72.1, 73.5, 75.3, 76.8, 78.8, 80, 81.1, 82.6, 84, 85.2, 86.6, 88.1, 89.3, 90.5, 92, 93.2, 94, 95.2,
              96.7, 98.1, 99.9, 101.6, 102.8, 104.5, 106.3, 107.5, 109.2, 111, 112.8, 114, 115.7, 117.4, 119.2,
              121, 122.7, 124.4, 125.6, 126.8, 128, 128.5, 129.7, 130.9, 132.6, 134.4, 135.6, 136.8, 138.5,
              139.7, 140.9, 142, 143.3, 144.7, 146.1, 147.9, 149, 150.8, 152, 153.1, 154.9, 156, 157.8, 159.6,
              160.7, 162.5, 164.3, 166, 167.8, 170.1, 171.3, 173.1, 175.4, 177.1, 178.9, 180.6, 181.8,
              183.7, 184.8, 186.6, 187.7, 188.9, 190.6, 191.8, 193.5, 195.3, 197.1, 198.2, 199.4, 201.1, 201.7,
              202.8, 204.6, 205.7, 207.2, 208.6, 209.8, 210.4, 211.6, 213.3, 214.5, 215.4, 216.8, 218, 218.9,
              220.3, 222.6, 224.3, 226.7, 228.4, 230.2, 232, 233.6, 234.8, 236.5, 238.9, 240.7, 241.8, 242.4,
              243.5, 244.5, 245.9, 247.6, 248.8, 250.5, 252.2, 253.7, 255.1, 256.9, 258.4, 259.8, 261.5, 263.3,
              264.4, 265.6, 267.3, 269, 270.8, 272, 273.1, 274.3, 275.5, 276.6, 277.8, 279.5, 280.7, 281.9,
              283.6, 284.8, 285.9, 287.7, 288.8, 290.5, 291.7, 292.9, 294, 295.2, 297, 297.9, 299.6, 302, 303.8,
              305.6, 307.4, 309.2, 311.5, 313.2, 314.4, 316.1, 317.3, 318.5, 320.2, 321.4, 323.4, 325.2, 326.5,
              328.3, 329.5, 331.3, 333, 334.8, 336.5, 338.2, 339.7, 341.7, 342.9, 344.1, 345.8, 348, 349.8,
              351.6, 353.3, 355.7, 356.8, 358.6, 360.3, 362, 364]
RIES_SOL_V = [0.59, 0.69, 1.45, 0.78, 0.85, 0.4, -0.3, 0.46, 0.15, 0.31, -0.11, 0.5, 0.21, 0.82, 0.72, 0.82, 0.4,
              0.11, 0.4, 0.66, 0.08, 0.88, 0.4, -0.62, 0.02, -0.97, -0.17, -0.43, -0.81, 0.59, 0.02, 0.53, -0.14,
              0.56, 0.08, 0.24, 0.62, 1.1, 0.4, -0.27, 0.59, -0.17, -0.24, 0.08, 0.21, 0.43, 0.53, 0.08, 0.5,
              0.21, 0.27, -0.08, 0.78, 0.4, 1.0, 0.88, 0.59, 1.1, 1.0, -0.24, -0.11, -0.68, 0.46, 0.72, -0.11,
              0.08, 1.13, 0.46, -0.11, -0.17, 0.59, -0.62, -0.3, -0.11, -0.68, 0.69, 0.34, 0.75, 0.15, -0.43,
              -0.71, -0.01, -0.46, -0.3, -0.55, -0.52, -0.81, -1.0, -0.94, -1.38, -1.06, -1.64, -0.52, -1.25,
              -0.49, -0.75, -0.11, 0.88, 0.08, -0.3, -1.13, -0.24, -0.75, -1.0, 0.46, 0.21, 0.59, 0.21, -0.24,
              0.53, 0.34, -0.05, 0.66, 0.02, 0.02, 0.08, 0.56, 0.27, 0.21, -0.24, 0.08, 0.27, 0.66, -0.59, -0.62,
              -0.75, -0.84,
              -0.62, -0.75, -0.08, -0.33, -0.27, -0.11, 0.21, 0.27, 0.46, -0.11, -0.14, -0.62, -0.11, 0.02, 0.31,
              0.21, 0.05, 0.4, 1.2, -0.43, -1.13, -0.05, -1.16, -0.55, 0.37, -0.62, -0.05, 0.21, 0.02, 0.08,
              -0.08, 0.15, -0.24, -0.39, -0.3, -0.27, 0.24, -0.08, -0.08, -0.14, -0.36, 0.15, 0.08, 0.24, 0.02,
              0.08, -0.17, 0.21, -0.24, 0.24, -0.05, -0.17, -0.01, -0.59, 0.5, 0.08, 1.04, 1.61, 0.4, 0.97, 0.66,
              -0.2, 0.21, -0.05, -0.81, -0.08, 0.05, 0.53, -0.17, 0.21, 0.37, -0.43, 0.46, 0.15, 0.21, 0.72,
              -0.11, 0.59, 0.34, 0.69, 0.21, 0.56, 0.15, 0.85, 0.4, 0.21, 0.34, 0.21, 0.4, 0.88, 0.66, 1.23, 0.75,
              1.13, 0.53, -0.11, -0.62, -0.3, 0.15, 0.27, -0.43, -0.24, -0.55, -0.75, -0.17, 0.4, 0.66, 0.46,
              -0.05, 0.27, 0.02, 0.62, 0.21, 0.66, 0.15, 0.97, 0.88, -0.36, -0.55, -0.62, -0.6]

RIES_D = [1, 10, 22, 34, 45, 57, 69, 80, 92, 104, 116, 127, 139, 151, 162, 174, 182, 192, 204, 216, 227, 239,
          250, 262, 274, 285, 297, 309, 320, 332, 344, 355, 364]
RIES_V = [0.21, 0.26, 0.3, 0.34, 0.36, 0.36, 0.35, 0.32, 0.27, 0.24, 0.18, 0.1, 0.02, -0.06, -0.12, -0.18, -0.25,
          -0.31, -0.36, -0.39, -0.4, -0.4, -0.39, -0.36, -0.32, -0.27, -0.2, -0.12, -0.04, 0.04, 0.11, 0.18, 0.22]

RED = '#ff0000'
BLUE = '#1e90ff'
GREEN = '#1a8a1a'
DOT = (0, (1, 2.2))

T0 = mdates.date2num(np.datetime64(START))


def xs(days):
    return T0 + np.asarray(days, dtype=float)


W_PX, H_PX = 1515, 1836
fig = plt.figure(figsize=(W_PX / 100, H_PX / 100), dpi=100)
left = 250 / W_PX
width = 1.0 - left
rects = [(147, 353), (399, 607), (650, 860), (1005, 1213), (1350, 1561)]
axes = [fig.add_axes([left, 1 - b / H_PX, width, (b - t) / H_PX]) for t, b in rects]

month_x = [mdates.date2num(np.datetime64(m)) for m in TICK_MONTHS]

for i, ax in enumerate(axes):
    ax.set_xlim(xs([0])[0], xs([364])[0])
    ax.set_ylim(-2, 2)
    ax.set_yticks(YTICKS)
    ax.xaxis.set_major_locator(FixedLocator(month_x))
    if i == len(axes) - 1:
        ax.xaxis.set_major_formatter(FixedFormatter(TICK_LABELS))
        for lab in ax.get_xticklabels():
            lab.set_rotation(45)
            lab.set_ha('center')
    else:
        ax.set_xticklabels([])
    ax.tick_params(axis='both', direction='out', length=14, width=2.2, pad=18)
    ax.tick_params(axis='x', labelsize=39)
    ax.tick_params(axis='y', labelsize=36.5)
    for s in ax.spines.values():
        s.set_linewidth(2.5)
    ax.set_ylabel(YLABELS[i], fontsize=43)
    ax.yaxis.set_label_coords(-0.112, 0.5)

# nudge the -2 / 2 labels of the tightly stacked panels apart a little
for i in (0, 1, 2):
    ticks = axes[i].yaxis.get_major_ticks()
    if i in (0, 1):
        lab = ticks[0].label1
        lab.set_transform(lab.get_transform() + mtransforms.ScaledTranslation(0, 4 / 72, fig.dpi_scale_trans))
    if i in (1, 2):
        lab = ticks[-1].label1
        lab.set_transform(lab.get_transform() + mtransforms.ScaledTranslation(0, -4 / 72, fig.dpi_scale_trans))

# a) dX
ax = axes[0]
l1, = ax.plot(xs(DX_SOL_D), DX_SOL_V, color=RED, lw=3.3, label='SOL-G|SOL-I')
l2, = ax.plot(xs(DX_GNSS_D), DX_GNSS_V, color=BLUE, lw=2.8, ls=DOT, label='GNSS-GCC')
# a) dY
axes[1].plot(xs(DY_SOL_D), DY_SOL_V, color=RED, lw=3.3)
axes[1].plot(xs(DY_GNSS_D), DY_GNSS_V, color=BLUE, lw=2.8, ls=DOT)
# a) dZ
axes[2].plot(xs(DZ_SOL_D), DZ_SOL_V, color=RED, lw=3.3)
axes[2].plot(xs(DZ_GNSS_D), DZ_GNSS_V, color=BLUE, lw=2.8, ls=DOT)
# b)
lb1, = axes[3].plot(xs(SLR_SOL_D), SLR_SOL_V, color=RED, lw=3.3, label='SOL-I|SOL-SLR')
lb2, = axes[3].plot(xs(SLR_GCC_D), SLR_GCC_V, color=BLUE, lw=2.8, ls=DOT, label='SLR-GCC')
# c)
lc1, = axes[4].plot(xs(RIES_SOL_D), RIES_SOL_V, color=RED, lw=3.3, label='SOL-G|RIES')
lc2, = axes[4].plot(xs(DZ_GNSS_D), DZ_GNSS_V, color=GREEN, lw=1.2, ls='--', label='GNSS-GCC')
lc3, = axes[4].plot(xs(RIES_D), RIES_V, color=BLUE, lw=3.2, ls=DOT, label='RIES')


def style_legend(leg):
    fr = leg.get_frame()
    fr.set_edgecolor('#cccccc')
    fr.set_linewidth(5)
    fr.set_facecolor('white')
    fr.set_alpha(1)


leg = axes[0].legend(handles=[l1, l2], loc='lower left', bbox_to_anchor=(0, 1.01, 1, 0.3), mode='expand',
                     ncol=2, fontsize=43, handlelength=2.05, handletextpad=0.78, borderaxespad=0,
                     fancybox=True)
style_legend(leg)
leg = axes[3].legend(handles=[lb1, lb2], loc='lower left', bbox_to_anchor=(0, 1.01, 1, 0.3), mode='expand',
                     ncol=2, fontsize=43, handlelength=2.05, handletextpad=0.78, borderaxespad=0,
                     fancybox=True)
style_legend(leg)
leg = axes[4].legend(handles=[lc1, lc2, lc3], loc='lower left', bbox_to_anchor=(0, 1.01, 1, 0.3),
                     mode='expand', ncol=3, fontsize=43, handlelength=1.45, handletextpad=0.3,
                     borderaxespad=0, fancybox=True)
style_legend(leg)

axes[4].set_xlabel('Date', fontsize=43)
axes[4].xaxis.set_label_coords(0.5, -1.035)

for tag, ypx in zip(PANEL_TAGS, [75, 933, 1291]):
    fig.text(52 / W_PX, 1 - ypx / H_PX, tag, fontsize=43, fontweight='bold', ha='left', va='center')

fig.savefig('out.png', dpi=100)
